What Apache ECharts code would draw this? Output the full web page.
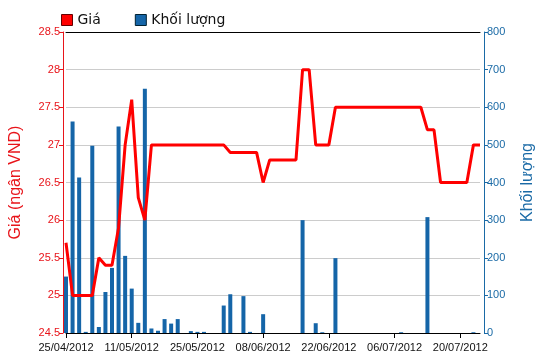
<!DOCTYPE html>
<html>
<head>
<meta charset="utf-8">
<script src="https://cdn.jsdelivr.net/npm/echarts@6/dist/echarts.min.js"></script>
<style>html,body{margin:0;padding:0;background:#fff}#c{width:550px;height:364px}</style>
</head>
<body>
<div id="c"></div>
<script>
var dates = ["25/04/2012","26/04/2012","27/04/2012","02/05/2012","03/05/2012","04/05/2012","07/05/2012","08/05/2012","09/05/2012","10/05/2012",
"11/05/2012","14/05/2012","15/05/2012","16/05/2012","17/05/2012","18/05/2012","21/05/2012","22/05/2012","23/05/2012","24/05/2012",
"25/05/2012","28/05/2012","29/05/2012","30/05/2012","31/05/2012","01/06/2012","04/06/2012","05/06/2012","06/06/2012","07/06/2012",
"08/06/2012","11/06/2012","12/06/2012","13/06/2012","14/06/2012","15/06/2012","18/06/2012","19/06/2012","20/06/2012","21/06/2012",
"22/06/2012","25/06/2012","26/06/2012","27/06/2012","28/06/2012","29/06/2012","02/07/2012","03/07/2012","04/07/2012","05/07/2012",
"06/07/2012","09/07/2012","10/07/2012","11/07/2012","12/07/2012","13/07/2012","16/07/2012","17/07/2012","18/07/2012","19/07/2012",
"20/07/2012","23/07/2012","24/07/2012","25/07/2012"];
var price = [25.7,25.0,25.0,25.0,25.0,25.5,25.4,25.4,25.9,27.0,
27.6,26.3,26.0,27.0,27.0,27.0,27.0,27.0,27.0,27.0,
27.0,27.0,27.0,27.0,27.0,26.9,26.9,26.9,26.9,26.9,
26.5,26.8,26.8,26.8,26.8,26.8,28.0,28.0,27.0,27.0,
27.0,27.5,27.5,27.5,27.5,27.5,27.5,27.5,27.5,27.5,
27.5,27.5,27.5,27.5,27.5,27.2,27.2,26.5,26.5,26.5,
26.5,26.5,27.0,27.0];
var volume = [150,562,413,3,498,16,109,173,549,205,
118,27,649,12,6,37,25,37,0,5,
3,3,0,0,73,103,0,98,3,0,
50,0,0,0,0,0,300,0,26,2,
0,199,0,0,0,0,0,0,0,0,
0,2,0,0,0,308,0,0,0,0,
0,0,2,0];
var priceTicks = [24.5, 28.5, 0.5];
var volumeTicks = [0, 800, 100];

var chart = echarts.init(document.getElementById('c'), null, {renderer: 'canvas'});
var font = 'Liberation Sans, Arial, sans-serif';
chart.setOption({
  animation: false,
  legend: {
    left: 56, top: 8,
    itemWidth: 11, itemHeight: 11, itemGap: 34,
    icon: 'rect',
    textStyle: {fontFamily: 'DejaVu Sans, sans-serif', fontSize: 14, color: '#111'},
    data: [
      {name: 'Giá', itemStyle: {color: '#ff0000', borderColor: '#600', borderWidth: 1}},
      {name: 'Khối lượng', itemStyle: {color: '#1565a8', borderColor: '#023', borderWidth: 1}}
    ]
  },
  grid: {left: 59, right: 70, top: 32, bottom: 31},
  xAxis: [{
    type: 'category', data: dates, boundaryGap: false,
    axisLine: {lineStyle: {color: '#000', width: 1}},
    axisTick: {interval: 9, length: 5, lineStyle: {color: '#000'}},
    axisLabel: {interval: 9, fontFamily: font, fontSize: 11, color: '#111', margin: 9},
    splitLine: {show: false}
  }, {
    type: 'category', data: dates, boundaryGap: false, position: 'top',
    axisLine: {lineStyle: {color: '#000', width: 1}},
    axisTick: {show: false}, axisLabel: {show: false}
  }],
  yAxis: [{
    type: 'value', min: priceTicks[0], max: priceTicks[1], interval: priceTicks[2],
    position: 'left', offset: 3,
    name: 'Giá (ngân VND)', nameLocation: 'middle', nameGap: 39, nameRotate: 90,
    nameTextStyle: {color: '#e8141a', fontFamily: font, fontSize: 16},
    axisLine: {show: true, lineStyle: {color: '#e8141a'}},
    axisTick: {show: true, length: 4, lineStyle: {color: '#e8141a'}},
    axisLabel: {color: '#e8141a', fontFamily: font, fontSize: 11, margin: 3,
      formatter: function(v){ return String(Math.round(v*10)/10); }},
    splitLine: {show: true, lineStyle: {color: '#cccccc', width: 1}}
  }, {
    type: 'value', min: volumeTicks[0], max: volumeTicks[1], interval: volumeTicks[2],
    position: 'right', offset: 4,
    name: 'Khối lượng', nameLocation: 'middle', nameGap: 36, nameRotate: 90,
    nameTextStyle: {color: '#1a6aa6', fontFamily: font, fontSize: 16},
    axisLine: {show: true, lineStyle: {color: '#1a6aa6'}},
    axisTick: {show: true, length: 4, lineStyle: {color: '#1a6aa6'}},
    axisLabel: {color: '#1a6aa6', fontFamily: font, fontSize: 11, margin: 3},
    splitLine: {show: false}
  }],
  series: [{
    name: 'Khối lượng', type: 'bar', yAxisIndex: 1, data: volume,
    barWidth: 4, itemStyle: {color: '#1565a8'}, z: 1
  }, {
    name: 'Giá', type: 'line', yAxisIndex: 0, data: price,
    symbol: 'none', lineStyle: {color: '#ff0000', width: 3},
    itemStyle: {color: '#ff0000'}, z: 3
  }]
});
</script>
</body>
</html>
